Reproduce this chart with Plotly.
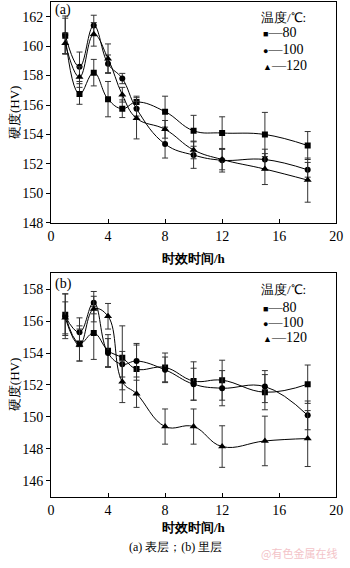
import plotly.graph_objects as go

hours = [1, 2, 3, 4, 5, 6, 8, 10, 12, 15, 18]

a80 = [160.7, 156.75, 158.2, 156.4, 155.75, 156.2, 155.55, 154.25, 154.1, 154.0, 153.25]
a80_err = [1.2, 0.7, 0.9, 1.2, 0.6, 0.4, 1.05, 1.05, 1.1, 1.5, 0.95]
a100 = [160.75, 158.6, 161.4, 158.8, 157.8, 155.75, 153.35, 152.6, 152.25, 152.3, 151.6]
a100_err = [1.3, 1.0, 0.7, 0.6, 0.35, 0.5, 0.95, 0.9, 0.8, 0.7, 0.5]
a120 = [160.2, 157.9, 160.8, 159.15, 156.7, 155.1, 154.35, 152.95, 152.3, 151.65, 150.9]
a120_err = [0.7, 0.7, 0.8, 1.0, 0.5, 1.4, 0.6, 0.6, 0.7, 1.05, 1.5]

b80 = [156.4, 154.6, 155.25, 154.15, 153.7, 153.0, 153.1, 152.25, 152.3, 151.55, 152.05]
b80_err = [1.3, 1.1, 1.65, 1.0, 2.0, 1.6, 0.9, 1.2, 1.25, 1.1, 1.2]
b100 = [156.3, 155.3, 157.15, 154.0, 153.3, 153.5, 152.95, 152.05, 151.8, 151.9, 150.1]
b100_err = [1.4, 0.9, 0.7, 0.9, 0.8, 1.0, 0.8, 1.0, 1.1, 1.0, 0.9]
b120 = [156.2, 154.5, 156.75, 156.3, 152.2, 151.45, 149.4, 149.4, 148.15, 148.5, 148.65]
b120_err = [1.0, 1.0, 0.8, 0.8, 1.3, 0.85, 1.1, 1.1, 1.3, 1.55, 1.75]

temps = ["80", "100", "120"]
symbols = ["square", "circle", "triangle-up"]
legend_glyphs = ["■", "●", "▲"]

W, H = 350, 568
SERIF = "Liberation Serif"
CJK = "Noto Sans CJK SC"

def px(x):
    return x / W

def py(y):
    return 1 - y / H

fig = go.Figure()

panels = [
    ("x", "y", [a80, a100, a120], [a80_err, a100_err, a120_err]),
    ("x2", "y2", [b80, b100, b120], [b80_err, b100_err, b120_err]),
]
for xa, ya, series, errs in panels:
    for vals, err, sym, t in zip(series, errs, symbols, temps):
        fig.add_trace(go.Scatter(
            x=hours, y=vals, xaxis=xa, yaxis=ya, name=t,
            mode="lines+markers",
            line=dict(color="black", width=1, shape="spline", smoothing=1.2),
            marker=dict(symbol=sym, size=7 if sym == "triangle-up" else 6, color="black"),
            error_y=dict(type="data", array=err, color="#333333", thickness=1, width=3),
            showlegend=False,
        ))

xdom = [px(48.5), px(343)]
axis_common = dict(showline=True, linecolor="black", linewidth=1, mirror=True,
                   showgrid=False, zeroline=False,
                   tickfont=dict(family=SERIF, size=14, color="black"),
                   tickcolor="black", ticklen=4)

fig.update_layout(
    width=W, height=H, margin=dict(l=0, r=0, t=0, b=0),
    paper_bgcolor="white", plot_bgcolor="white",
    font=dict(family=SERIF),
    xaxis=dict(domain=xdom, range=[0, 20], dtick=4, ticks="inside", anchor="y", **axis_common),
    yaxis=dict(domain=[py(226), py(2)], range=[148, 163], tickvals=[148, 150, 152, 154, 156, 158, 160, 162],
               ticks="outside", anchor="x", **axis_common),
    xaxis2=dict(domain=xdom, range=[0, 20], dtick=4, ticks="inside", anchor="y2", **axis_common),
    yaxis2=dict(domain=[py(504), py(277)], range=[145, 159], tickvals=[146, 148, 150, 152, 154, 156, 158],
                ticks="outside", anchor="x2", **axis_common),
)

ann = []
def text(x, y, s, size=13, family=SERIF, xanchor="left", color="black", angle=0):
    ann.append(dict(x=px(x), y=py(y), xref="paper", yref="paper", text=s, showarrow=False,
                    xanchor=xanchor, yanchor="middle", textangle=angle,
                    font=dict(family=family, size=size, color=color)))

# panel labels
text(51, 10, "(a)", size=14)
text(51, 288, "(b)", size=14)

# legends
for ty, rows in [(18, [33, 50, 66]), (294, [312, 327, 342])]:
    text(263, ty, "温度/℃:", size=13)
    for r, g, t in zip(rows, legend_glyphs, temps):
        text(265, r, "<span style='font-size:9px'>" + g + "</span>—" + t, size=14)

# y titles
text(11, 114, "硬度(HV)", size=13, xanchor="center", angle=-90)
text(11, 390, "硬度(HV)", size=13, xanchor="center", angle=-90)

# x titles
text(196, 262, "<b>时效时间/h</b>", size=13, xanchor="center")
text(196, 535, "<b>时效时间/h</b>", size=13, xanchor="center")

# caption
text(177, 555, "(a) 表层；(b) 里层", size=12, xanchor="center")

# watermark
text(346, 561, "@有色金属在线", size=11, family=CJK, xanchor="right", color="#f3c3c8")

fig.update_layout(annotations=ann)
fig.write_html("out.html")
